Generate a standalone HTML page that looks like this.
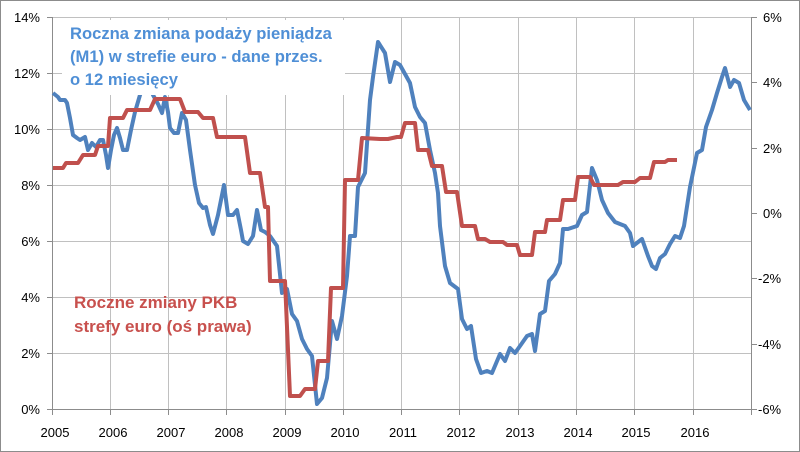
<!DOCTYPE html>
<html><head><meta charset="utf-8"><style>
body{margin:0;background:#fff}
svg{display:block;font-family:"Liberation Sans",Arial,sans-serif}
</style></head><body>
<svg width="800" height="452" viewBox="0 0 800 452">
<rect x="0.5" y="0.5" width="799" height="451" fill="#fff" stroke="#8c8c8c"/>
<g stroke="#c0c0c0" stroke-width="1">
<line x1="52" y1="17.5" x2="751" y2="17.5"/><line x1="52" y1="73.5" x2="751" y2="73.5"/><line x1="52" y1="129.5" x2="751" y2="129.5"/><line x1="52" y1="185.5" x2="751" y2="185.5"/><line x1="52" y1="241.5" x2="751" y2="241.5"/><line x1="52" y1="297.5" x2="751" y2="297.5"/><line x1="52" y1="353.5" x2="751" y2="353.5"/>
<line x1="110.5" y1="17" x2="110.5" y2="409"/><line x1="168.5" y1="17" x2="168.5" y2="409"/><line x1="226.5" y1="17" x2="226.5" y2="409"/><line x1="285.5" y1="17" x2="285.5" y2="409"/><line x1="343.5" y1="17" x2="343.5" y2="409"/><line x1="401.5" y1="17" x2="401.5" y2="409"/><line x1="459.5" y1="17" x2="459.5" y2="409"/><line x1="518.5" y1="17" x2="518.5" y2="409"/><line x1="576.5" y1="17" x2="576.5" y2="409"/><line x1="634.5" y1="17" x2="634.5" y2="409"/><line x1="693.5" y1="17" x2="693.5" y2="409"/>
</g>
<g stroke="#8c8c8c" stroke-width="1">
<line x1="52.5" y1="17" x2="52.5" y2="410"/><line x1="751.5" y1="17" x2="751.5" y2="410"/><line x1="47" y1="409.5" x2="751" y2="409.5"/>
<line x1="47" y1="17.5" x2="52" y2="17.5"/><line x1="47" y1="73.5" x2="52" y2="73.5"/><line x1="47" y1="129.5" x2="52" y2="129.5"/><line x1="47" y1="185.5" x2="52" y2="185.5"/><line x1="47" y1="241.5" x2="52" y2="241.5"/><line x1="47" y1="297.5" x2="52" y2="297.5"/><line x1="47" y1="353.5" x2="52" y2="353.5"/>
<line x1="751" y1="17.5" x2="757" y2="17.5"/><line x1="751" y1="82.5" x2="757" y2="82.5"/><line x1="751" y1="148.5" x2="757" y2="148.5"/><line x1="751" y1="213.5" x2="757" y2="213.5"/><line x1="751" y1="278.5" x2="757" y2="278.5"/><line x1="751" y1="344.5" x2="757" y2="344.5"/><line x1="751" y1="409.5" x2="757" y2="409.5"/>
<line x1="52.5" y1="409" x2="52.5" y2="415"/><line x1="110.5" y1="409" x2="110.5" y2="415"/><line x1="168.5" y1="409" x2="168.5" y2="415"/><line x1="226.5" y1="409" x2="226.5" y2="415"/><line x1="285.5" y1="409" x2="285.5" y2="415"/><line x1="343.5" y1="409" x2="343.5" y2="415"/><line x1="401.5" y1="409" x2="401.5" y2="415"/><line x1="459.5" y1="409" x2="459.5" y2="415"/><line x1="518.5" y1="409" x2="518.5" y2="415"/><line x1="576.5" y1="409" x2="576.5" y2="415"/><line x1="634.5" y1="409" x2="634.5" y2="415"/><line x1="693.5" y1="409" x2="693.5" y2="415"/><line x1="751.5" y1="409" x2="751.5" y2="415"/>
</g>
<polyline fill="none" stroke="#4f81bd" stroke-width="4" stroke-linejoin="round" points="53,93 58,97 60,100 65,100 67,103 70,118 73,135 77,138 80,140 85,137 88,150 92,143 96,147 100,140 103,140 106,155 108,168 111,150 114,135 117,128 120,138 123,150 127,150 131,130 135,112 140,95 143,88 150,85 153,95 158,104 162,113 165,97 168,112 170,128 174,133 178,133 182,113 186,120 190,150 195,185 199,203 203,208 206,207 210,225 213,234 218,215 224,185 228,215 233,215 237,210 241,230 243,241 248,244 253,236 257,210 261,230 265,232 270,236 277,246 282,293 287,289 292,314 297,321 302,339 307,349 312,356 317,404 322,398 327,378 332,321 337,339 342,316 347,276 350,236 355,236 358,187 365,173 370,100 373,77 378,42 385,53 390,82 395,62 400,65 410,83 415,107 420,117 425,123 430,150 435,173 438,193 440,226 445,266 450,283 458,289 462,319 467,329 471,326 476,359 481,373 487,371 492,373 500,354 505,361 510,348 515,353 520,346 527,336 532,334 535,351 540,314 545,311 549,281 555,274 560,263 563,229 568,229 577,226 582,215 587,212 592,168 597,180 602,200 608,213 615,222 625,226 630,233 633,246 642,239 648,256 652,266 656,269 660,258 665,254 670,244 675,236 680,238 684,226 690,187 697,153 702,150 706,127 712,110 717,93 722,77 725,68 730,87 734,80 739,83 744,100 750,110"/>
<rect x="62" y="20" width="283" height="75" fill="#fff"/>
<polyline fill="none" stroke="#c0504d" stroke-width="4" stroke-linejoin="round" points="53,168 63,168 66,163 78,163 83,155 95,155 98,146 108,146 110,118 123,118 127,110 150,110 155,99 180,99 185,112 198,112 203,118 213,118 217,137 245,137 250,173 260,173 265,207 268,207 270,281 285,281 290,396 300,396 305,389 315,389 318,361 328,361 331,288 343,288 345,180 358,180 362,138 380,139 388,139 397,137 401,137 405,123 415,123 418,150 428,150 432,166 442,166 446,192 457,192 462,226 475,226 478,239 485,239 490,242 503,242 507,245 517,245 520,255 532,255 535,232 545,232 547,220 560,220 563,200 575,200 578,177 590,177 594,185 618,185 623,182 635,182 640,178 650,178 654,162 665,162 668,160 677,160"/>
<g font-size="13" fill="#000" text-anchor="end">
<text x="40" y="22">14%</text><text x="40" y="78">12%</text><text x="40" y="134">10%</text><text x="40" y="190">8%</text><text x="40" y="246">6%</text><text x="40" y="302">4%</text><text x="40" y="358">2%</text><text x="40" y="414">0%</text>
</g>
<g font-size="13" fill="#000" text-anchor="start">
<text x="763" y="22">6%</text><text x="763" y="87">4%</text><text x="763" y="153">2%</text><text x="763" y="218">0%</text><text x="758" y="283">-2%</text><text x="758" y="349">-4%</text><text x="758" y="414">-6%</text>
</g>
<g font-size="13" fill="#000" text-anchor="middle">
<text x="55" y="437">2005</text><text x="113" y="437">2006</text><text x="171" y="437">2007</text><text x="229" y="437">2008</text><text x="287" y="437">2009</text><text x="345" y="437">2010</text><text x="403" y="437">2011</text><text x="461" y="437">2012</text><text x="520" y="437">2013</text><text x="578" y="437">2014</text><text x="636" y="437">2015</text><text x="695" y="437">2016</text>
</g>
<g font-size="16.6" font-weight="bold" fill="#4f8fd6">
<text x="70" y="39">Roczna zmiana podaży pieniądza</text>
<text x="70" y="62">(M1) w strefie euro - dane przes.</text>
<text x="70" y="85">o 12 miesięcy</text>
</g>
<g font-size="17" font-weight="bold" fill="#c8504d">
<text x="74" y="308">Roczne zmiany PKB</text>
<text x="74" y="332">strefy euro (oś prawa)</text>
</g>
</svg>
</body></html>
